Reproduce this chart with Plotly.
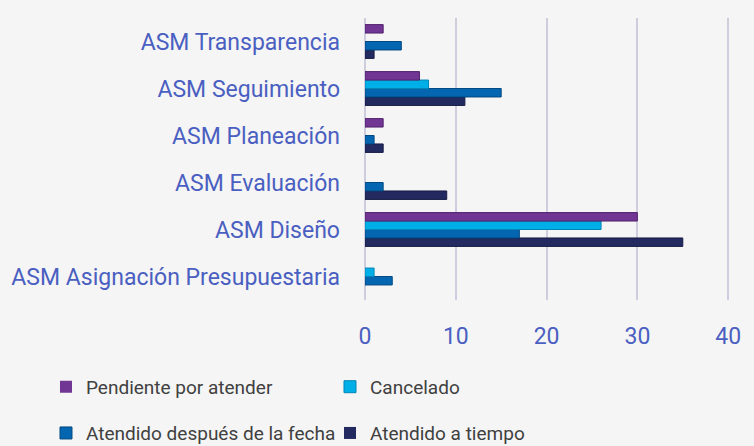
import plotly.graph_objects as go

categories = ["ASM Asignación Presupuestaria", "ASM Diseño", "ASM Evaluación",
              "ASM Planeación", "ASM Seguimiento", "ASM Transparencia"]
pendiente = [0, 30, 0, 2, 6, 2]
cancelado = [1, 26, 0, 0, 7, 0]
despues = [3, 17, 2, 1, 15, 4]
a_tiempo = [0, 35, 9, 2, 11, 1]
x_ticks = [0, 10, 20, 30, 40]

series = [
    ("Atendido a tiempo", a_tiempo, "#232a60", "#161c45", "legend2"),
    ("Atendido después de la fecha", despues, "#0465b0", "#034a82", "legend2"),
    ("Cancelado", cancelado, "#00aee8", "#0087b5", "legend"),
    ("Pendiente por atender", pendiente, "#713594", "#52246d", "legend"),
]

fig = go.Figure()
for name, vals, col, edge, lg in series:
    fig.add_trace(go.Bar(
        y=categories, x=vals, name=name, orientation="h",
        marker=dict(color=col,
                    line=dict(color=edge, width=[0 if v == 0 else 1 for v in vals])),
        legend=lg,
    ))

font_family = "Roboto, 'Open Sans', sans-serif"
lg_common = dict(orientation="h", traceorder="reversed",
                 xref="paper", yref="paper", x=-0.874,
                 xanchor="left", yanchor="middle",
                 entrywidth=239, entrywidthmode="pixels",
                 font=dict(size=19, color="#404040"),
                 bgcolor="rgba(0,0,0,0)")
fig.update_layout(
    width=754, height=446,
    barmode="group", bargap=0.28, bargroupgap=0,
    paper_bgcolor="#f5f5f5", plot_bgcolor="#f5f5f5",
    margin=dict(l=365, r=24, t=18, b=146, autoexpand=False),
    font=dict(family=font_family),
    xaxis=dict(range=[0, 40.2], tickvals=x_ticks, showgrid=True,
               gridcolor="#cdcddd", gridwidth=2,
               zeroline=True, zerolinecolor="#cdcddd", zerolinewidth=2,
               tickfont=dict(size=23, color="#4a5fc1"),
               ticklabelstandoff=20, showline=False, fixedrange=True),
    yaxis=dict(categoryorder="array", categoryarray=categories,
               tickfont=dict(size=23, color="#4a5fc1"),
               ticklabelstandoff=24, showgrid=False, zeroline=False,
               showline=False, fixedrange=True),
    legend=dict(y=-0.308, **lg_common),
    legend2=dict(y=-0.472, **lg_common),
)

fig.write_html("out.html", config={"displayModeBar": False},
               post_script="document.body.style.margin='0';document.body.style.background='#f5f5f5';")
